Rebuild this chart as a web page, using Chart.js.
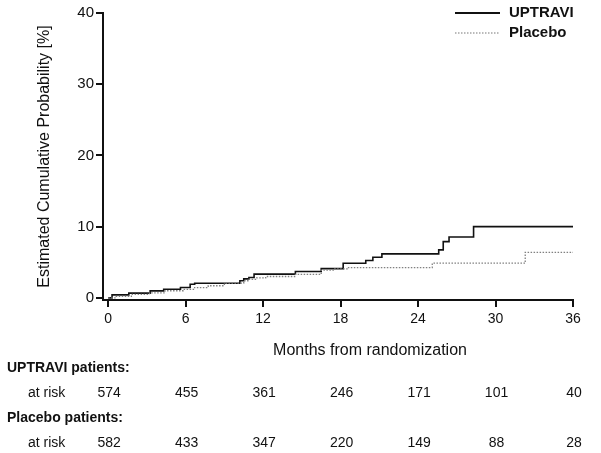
<!DOCTYPE html>
<html>
<head>
<meta charset="utf-8">
<script src="https://cdn.jsdelivr.net/npm/chart.js@4.4.1/dist/chart.umd.min.js"></script>
<style>
  html, body { margin: 0; padding: 0; background: #fff; }
  #wrap { width: 601px; height: 453px; }
</style>
</head>
<body>
<div id="wrap"><canvas id="kmChart" width="601" height="453"></canvas></div>
<script>
// Kaplan-Meier style step data (months, %)
const uptraviMonths = [0, 0.3, 1.6, 3.25, 4.3, 5.6, 6.35, 6.7, 10.2, 10.5, 10.9, 11.3, 14.5, 16.5, 18.2, 19.95, 20.5, 21.2, 25.6, 25.95, 26.4, 28.3, 36];
const uptraviPct    = [0, 0.42, 0.66, 0.98, 1.2, 1.45, 1.92, 2.06, 2.4, 2.67, 2.85, 3.33, 3.7, 4.1, 4.87, 5.24, 5.7, 6.17, 6.74, 7.9, 8.55, 10.0, 10.0];

const placeboMonths = [0, 0.6, 1.8, 3.2, 4.4, 5.8, 6.7, 7.75, 9.0, 10.5, 10.9, 11.5, 12.2, 14.5, 16.5, 17.5, 18.5, 25.1, 32.3, 36];
const placeboPct    = [0, 0.2, 0.5, 0.7, 1.0, 1.2, 1.45, 1.7, 2.06, 2.4, 2.6, 2.8, 3.0, 3.3, 3.9, 4.07, 4.26, 4.87, 6.4, 6.4];

const monthTicks = [0, 6, 12, 18, 24, 30, 36];
const pctTicks = [0, 10, 20, 30, 40];

const uptraviAtRisk = [574, 455, 361, 246, 171, 101, 40];
const placeboAtRisk = [582, 433, 347, 220, 149, 88, 28];

const FONT = '"Liberation Sans", Arial, sans-serif';

function toPoints(xs, ys) {
  return xs.map((x, i) => ({ x: x, y: ys[i] }));
}

// legend, x title and the numbers-at-risk table under the axis
const extrasPlugin = {
  id: 'extras',
  afterDraw(chart) {
    const ctx = chart.ctx;
    const xScale = chart.scales.x;
    ctx.save();

    // legend top right
    ctx.lineWidth = 2;
    ctx.strokeStyle = '#111';
    ctx.beginPath();
    ctx.moveTo(455, 13);
    ctx.lineTo(500, 13);
    ctx.stroke();
    ctx.lineWidth = 1.2;
    ctx.strokeStyle = '#777';
    ctx.setLineDash([1.5, 1.5]);
    ctx.beginPath();
    ctx.moveTo(455, 33);
    ctx.lineTo(500, 33);
    ctx.stroke();
    ctx.setLineDash([]);

    ctx.fillStyle = '#111';
    ctx.font = 'bold 15px ' + FONT;
    ctx.textBaseline = 'middle';
    ctx.textAlign = 'left';
    ctx.fillText('UPTRAVI', 509, 13);
    ctx.fillText('Placebo', 509, 33);

    // x axis title
    ctx.font = '16px ' + FONT;
    ctx.textAlign = 'center';
    ctx.fillText('Months from randomization', 370, 351);

    // at risk table
    ctx.textAlign = 'left';
    ctx.font = 'bold 14px ' + FONT;
    ctx.fillText('UPTRAVI patients:', 7, 368);
    ctx.fillText('Placebo patients:', 7, 418);
    ctx.font = '14px ' + FONT;
    ctx.fillText('at risk', 28, 393);
    ctx.fillText('at risk', 28, 443);

    ctx.textAlign = 'center';
    monthTicks.forEach((m, i) => {
      const px = xScale.getPixelForValue(m) + 1;
      ctx.fillText(String(uptraviAtRisk[i]), px, 393);
      ctx.fillText(String(placeboAtRisk[i]), px, 443);
    });
    ctx.restore();
  }
};

const ctx = document.getElementById('kmChart').getContext('2d');
new Chart(ctx, {
  type: 'line',
  data: {
    datasets: [
      {
        label: 'Placebo',
        data: toPoints(placeboMonths, placeboPct),
        borderColor: '#808080',
        borderWidth: 1.3,
        borderDash: [1.5, 1.5],
        stepped: true,
        pointRadius: 0,
        fill: false
      },
      {
        label: 'UPTRAVI',
        data: toPoints(uptraviMonths, uptraviPct),
        borderColor: '#111',
        borderWidth: 1.6,
        stepped: true,
        pointRadius: 0,
        fill: false
      }
    ]
  },
  options: {
    responsive: false,
    animation: false,
    layout: { padding: { top: 13, right: 28, left: 0, bottom: 0 } },
    plugins: {
      legend: { display: false },
      tooltip: { enabled: false }
    },
    scales: {
      x: {
        type: 'linear',
        min: -0.4,
        max: 36,
        afterBuildTicks: axis => { axis.ticks = monthTicks.map(v => ({ value: v })); },
        afterFit: axis => { axis.height = 153; },
        grid: { drawOnChartArea: false, drawTicks: true, tickLength: 7, color: '#111', lineWidth: 2 },
        border: { display: true, color: '#111', width: 2 },
        ticks: { color: '#111', font: { family: FONT, size: 14 }, padding: 4, maxRotation: 0 }
      },
      y: {
        type: 'linear',
        min: -0.3,
        max: 40,
        afterBuildTicks: axis => { axis.ticks = pctTicks.map(v => ({ value: v })); },
        afterFit: axis => { axis.width = 103; },
        grid: { drawOnChartArea: false, drawTicks: true, tickLength: 7, color: '#111', lineWidth: 2 },
        border: { display: true, color: '#111', width: 2 },
        ticks: { color: '#111', font: { family: FONT, size: 15 }, padding: 2 },
        title: {
          display: true,
          text: 'Estimated Cumulative Probability [%]',
          color: '#111',
          font: { family: FONT, size: 16 },
          padding: { top: 35, bottom: 0 }
        }
      }
    }
  },
  plugins: [extrasPlugin]
});
</script>
</body>
</html>
